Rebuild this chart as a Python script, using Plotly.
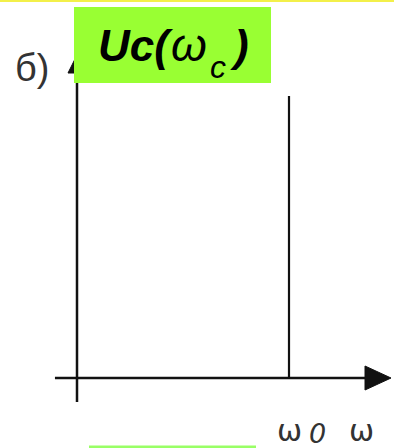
import plotly.graph_objects as go

# Resonance curve of the capacitor voltage: an ideal spike at ω0
omega_res = [1.0]      # resonant frequency ω0 (normalised)
uc_peak = [1.0]        # amplitude of Uc at ω0 (normalised)
axis_labels = ["ω", "0", "ω"]
title_parts = ["<b><i>Uc(</i></b>", "<i>ω</i>", "<i>c</i>", "<b><i>)</i></b>"]
panel_label = "б)"

W, H = 394, 448

# data ranges chosen so the origin and ω0 sit on a fixed canvas
x_range = [-0.3632, 1.4953]
y_range = [-0.248, 1.340]


def px(x):
    return x / W


def py(y):
    return 1 - y / H


fig = go.Figure()

# the spike Uc(ω) at ω = ω0
for w, u in zip(omega_res, uc_peak):
    fig.add_trace(go.Scatter(
        x=[w, w], y=[0, u], mode="lines",
        line=dict(color="#111111", width=2.2),
        hoverinfo="skip", showlegend=False,
    ))

shapes = [
    # thin yellow rule at the very top
    dict(type="rect", xref="paper", yref="paper", x0=0, x1=1, y0=py(2), y1=1,
         fillcolor="#f3f04a", line=dict(width=0), layer="below"),
    # horizontal ω axis
    dict(type="line", xref="x", yref="y", x0=-0.104, x1=1.40, y0=0, y1=0,
         line=dict(color="#111111", width=2.5)),
    # vertical axis
    dict(type="line", xref="x", yref="y", x0=0, x1=0, y0=-0.085, y1=1.10,
         line=dict(color="#111111", width=2.5)),
    # arrowhead of the ω axis
    dict(type="path", xref="paper", yref="paper",
         path=f"M {px(365)},{py(366)} L {px(391)},{py(378)} L {px(365)},{py(390)} Z",
         fillcolor="#111111", line=dict(color="#111111", width=1)),
    # arrowhead of the vertical axis
    dict(type="path", xref="paper", yref="paper",
         path=f"M {px(68)},{py(73)} L {px(77)},{py(55)} L {px(86)},{py(73)} Z",
         fillcolor="#111111", line=dict(color="#111111", width=1)),
    # green title box
    dict(type="rect", xref="paper", yref="paper", x0=px(74), x1=px(271), y0=py(83), y1=py(7),
         fillcolor="#99ff33", line=dict(width=0)),
    # green box peeking in at the bottom edge
    dict(type="rect", xref="paper", yref="paper", x0=px(89), x1=px(256), y0=0, y1=py(445.5),
         fillcolor="#99ff66", line=dict(width=0)),
]

font_title = "Liberation Sans, Arial"
annotations = []
# title pieces: Uc( ω c )
for text, x, y, size in zip(title_parts, [96, 169, 208, 228], [45, 45, 67, 45], [44, 46, 32, 44]):
    annotations.append(dict(
        text=text, xref="paper", yref="paper", x=px(x), y=py(y),
        xanchor="left", yanchor="middle", showarrow=False,
        font=dict(family=font_title, size=size, color="#000000")))

annotations += [
    dict(text=panel_label, xref="paper", yref="paper", x=px(13), y=py(68),
         xanchor="left", yanchor="middle", showarrow=False,
         font=dict(family="Liberation Sans, Arial", size=38, color="#333333")),
    dict(text=axis_labels[0], xref="x", yref="paper", x=omega_res[0], y=py(430),
         xanchor="left", yanchor="middle", showarrow=False, xshift=-14,
         font=dict(family="DejaVu Sans", size=30, color="#333333")),
    dict(text="<i>" + axis_labels[1] + "</i>", xref="x", yref="paper", x=omega_res[0], y=py(433),
         xanchor="left", yanchor="middle", showarrow=False, xshift=18,
         font=dict(family="DejaVu Sans", size=27, color="#333333")),
    dict(text=axis_labels[2], xref="paper", yref="paper", x=px(361), y=py(430),
         xanchor="center", yanchor="middle", showarrow=False,
         font=dict(family="DejaVu Sans", size=30, color="#333333")),
]

fig.update_layout(
    width=W, height=H,
    margin=dict(l=0, r=0, t=0, b=0),
    paper_bgcolor="white", plot_bgcolor="white",
    xaxis=dict(range=x_range, visible=False, fixedrange=True),
    yaxis=dict(range=y_range, visible=False, fixedrange=True),
    shapes=shapes, annotations=annotations,
)

fig.write_html("out.html")
